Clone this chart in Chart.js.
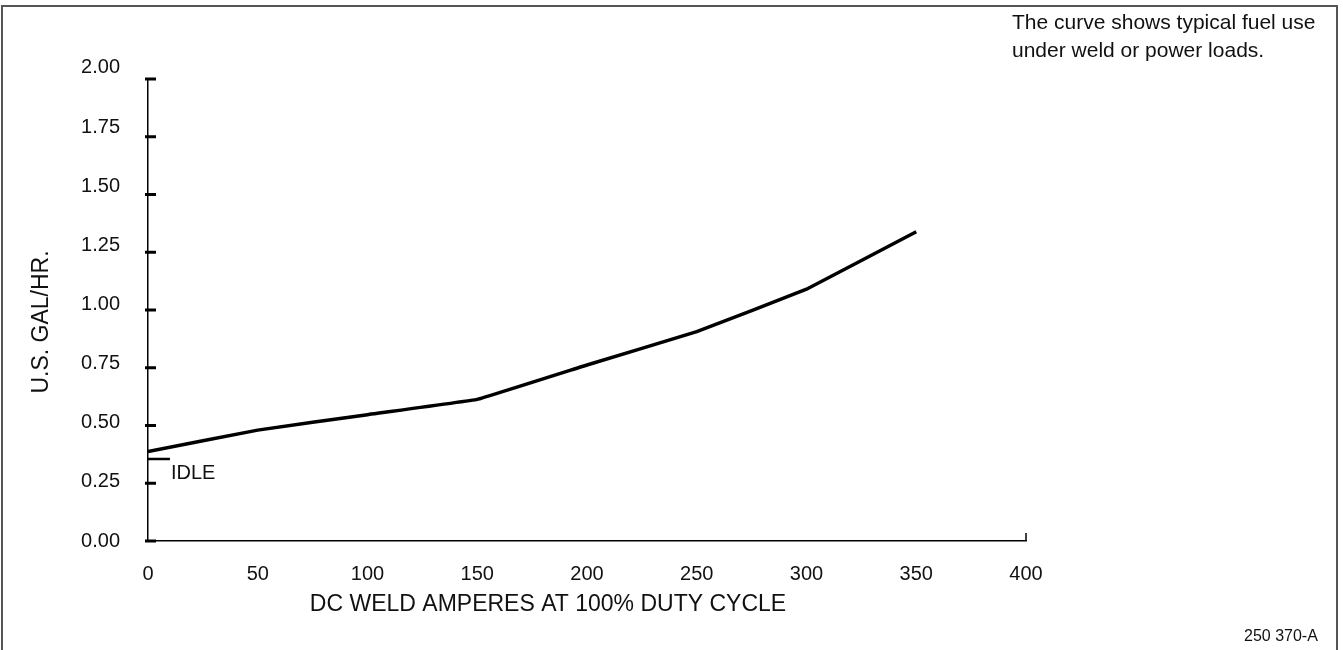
<!DOCTYPE html>
<html>
<head>
<meta charset="utf-8">
<script src="https://cdn.jsdelivr.net/npm/chart.js@4.4.1/dist/chart.umd.min.js"></script>
<style>
  html, body { margin: 0; padding: 0; background: #fff; }
  body { width: 1343px; height: 650px; position: relative; overflow: hidden; font-family: "Liberation Sans", Arial, sans-serif; }
  #frame { position: absolute; left: 1px; top: 5px; width: 1337px; height: 700px; border: 2px solid #555; border-bottom: none; box-sizing: border-box; }
  #note { position: absolute; left: 1012px; top: 8px; font-size: 21px; line-height: 28px; color: #111; }
  #code { position: absolute; left: 1244px; top: 627px; font-size: 16px; color: #111; }
  #wrap { position: absolute; left: 0; top: 0; width: 1343px; height: 650px; }
</style>
</head>
<body>
<div id="frame"></div>
<div id="wrap"><canvas id="fuel-chart" width="1343" height="650"></canvas></div>
<div id="note">The curve shows typical fuel use<br>under weld or power loads.</div>
<div id="code">250 370-A</div>
<script>
// --- Fuel consumption curve ---

const amps = [0, 50, 100, 150, 200, 250, 300, 350];
const gallonsPerHour = [0.387, 0.48, 0.547, 0.613, 0.762, 0.906, 1.09, 1.339];
const idleAmps = [0, 10];
const idleGallons = [0.355, 0.355];
const xTicks = [0, 50, 100, 150, 200, 250, 300, 350, 400];
const yTicks = [0, 0.25, 0.5, 0.75, 1, 1.25, 1.5, 1.75, 2];

const FONT = '"Liberation Sans", Arial, sans-serif';
// the printed y labels drift slightly upward from their tick marks
const LABEL_STRETCH = 1.024;

// tick marks, y labels, end marker, idle label and axis titles
const extrasPlugin = {
  id: 'extras',
  afterDraw(chart) {
    const ctx = chart.ctx;
    const xs = chart.scales.x;
    const ys = chart.scales.y;
    ctx.save();
    ctx.strokeStyle = '#000';
    ctx.lineWidth = 3;
    yTicks.forEach(v => {
      const py = ys.getPixelForValue(v);
      ctx.beginPath();
      ctx.moveTo(xs.left - 3, py);
      ctx.lineTo(xs.left + 8, py);
      ctx.stroke();
    });
    // small upward mark at the end of the x axis
    ctx.lineWidth = 1.5;
    const ex = xs.getPixelForValue(400);
    ctx.beginPath();
    ctx.moveTo(ex, ys.bottom);
    ctx.lineTo(ex, ys.bottom - 8);
    ctx.stroke();

    ctx.fillStyle = '#111';
    ctx.font = '20px ' + FONT;
    ctx.textAlign = 'right';
    ctx.textBaseline = 'middle';
    yTicks.forEach(v => {
      ctx.fillText(v.toFixed(2), xs.left - 28, ys.getPixelForValue(v * LABEL_STRETCH));
    });

    ctx.textAlign = 'left';
    ctx.textBaseline = 'top';
    ctx.fillText('IDLE', xs.getPixelForValue(idleAmps[1]) + 1, ys.getPixelForValue(idleGallons[0]) + 4);

    ctx.font = '23px ' + FONT;
    ctx.textAlign = 'center';
    ctx.textBaseline = 'middle';
    ctx.fillText('DC WELD AMPERES AT 100% DUTY CYCLE', 548, 605);

    ctx.translate(42, 322);
    ctx.rotate(-Math.PI / 2);
    ctx.fillText('U.S. GAL/HR.', 0, 0);
    ctx.restore();
  }
};

const ctx = document.getElementById('fuel-chart').getContext('2d');
new Chart(ctx, {
  type: 'line',
  data: {
    datasets: [{
      data: amps.map((a, i) => ({ x: a, y: gallonsPerHour[i] })),
      borderColor: '#000',
      borderWidth: 3.5,
      pointRadius: 0,
      tension: 0.05,
      fill: false
    }, {
      data: idleAmps.map((a, i) => ({ x: a, y: idleGallons[i] })),
      borderColor: '#000',
      borderWidth: 2.5,
      pointRadius: 0,
      fill: false
    }]
  },
  options: {
    responsive: false,
    animation: false,
    layout: { padding: { left: 0, right: 317, top: 79, bottom: 0 } },
    plugins: { legend: { display: false }, tooltip: { enabled: false } },
    scales: {
      x: {
        type: 'linear',
        min: 0,
        max: 400,
        afterBuildTicks: s => { s.ticks = xTicks.map(v => ({ value: v })); },
        afterFit: s => { s.height = 109; },
        grid: { display: false },
        border: { display: true, color: '#000', width: 1.5 },
        ticks: { color: '#111', font: { family: FONT, size: 20 }, padding: 13, maxRotation: 0 }
      },
      y: {
        min: 0,
        max: 2,
        afterBuildTicks: s => { s.ticks = yTicks.map(v => ({ value: v })); },
        afterFit: s => { s.width = 148; },
        grid: { display: false },
        border: { display: true, color: '#000', width: 1.5 },
        ticks: { display: false }
      }
    }
  },
  plugins: [extrasPlugin]
});
</script>
</body>
</html>
